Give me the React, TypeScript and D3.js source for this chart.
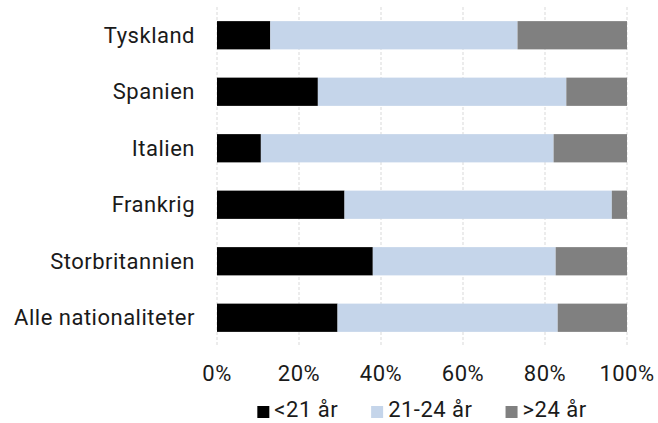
import React, { useEffect, useRef } from 'react';
import * as d3 from 'd3';

const categories = ['Tyskland', 'Spanien', 'Italien', 'Frankrig', 'Storbritannien', 'Alle nationaliteter'];
const seriesNames = ['<21 år', '21-24 år', '>24 år'];
const under21 = [13.0, 24.6, 10.7, 31.1, 38.0, 29.4];
const from21to24 = [60.3, 60.6, 71.4, 65.2, 44.6, 53.7];
const over24 = [26.7, 14.8, 17.9, 3.7, 17.4, 16.9];
const xTicks = [0, 20, 40, 60, 80, 100];
const colors = ['#000000', '#c5d5ea', '#808080'];

const W = 658;
const H = 423;
const FONT = 'Roboto, "DejaVu Sans", sans-serif';

const App: React.FC = () => {
  const svgRef = useRef<SVGSVGElement>(null);

  useEffect(() => {
    if (!svgRef.current) return;
    const margin = { top: 7, right: 31, bottom: 77, left: 217 };
    const innerW = W - margin.left - margin.right;
    const innerH = H - margin.top - margin.bottom;

    const svg = d3.select(svgRef.current);
    svg.selectAll('*').remove();

    const g = svg.append('g').attr('transform', `translate(${margin.left},${margin.top})`);

    const x = d3.scaleLinear().domain([0, 100]).range([0, innerW]);
    const y = d3
      .scaleBand<string>()
      .domain(categories)
      .range([0, innerH])
      .paddingInner(0.5)
      .paddingOuter(0.25);

    // dashed vertical gridlines
    g.append('g')
      .selectAll('line')
      .data(xTicks)
      .join('line')
      .attr('x1', (d) => x(d))
      .attr('x2', (d) => x(d))
      .attr('y1', 0)
      .attr('y2', innerH)
      .attr('stroke', '#d9d9d9')
      .attr('stroke-width', 1)
      .attr('stroke-dasharray', '3,2');

    const rows = categories.map((c, i) => ({ cat: c, v: [under21[i], from21to24[i], over24[i]] }));
    const stacked = d3.stack<{ cat: string; v: number[] }, number>()
      .keys([0, 1, 2])
      .value((d, k) => d.v[k])(rows);

    g.append('g')
      .selectAll('g')
      .data(stacked)
      .join('g')
      .attr('fill', (_, i) => colors[i])
      .selectAll('rect')
      .data((s) => s)
      .join('rect')
      .attr('x', (d) => x(d[0]))
      .attr('width', (d) => x(d[1]) - x(d[0]))
      .attr('y', (d) => y(d.data.cat)!)
      .attr('height', y.bandwidth());

    // category labels
    g.append('g')
      .selectAll('text')
      .data(categories)
      .join('text')
      .attr('x', -22)
      .attr('y', (d) => y(d)! + y.bandwidth() / 2)
      .attr('dy', '0.35em')
      .attr('text-anchor', 'end')
      .attr('font-family', FONT)
      .attr('font-size', 22)
      .attr('letter-spacing', 0.5)
      .attr('fill', '#1a1a1a')
      .text((d) => d);

    // x tick labels
    g.append('g')
      .selectAll('text')
      .data(xTicks)
      .join('text')
      .attr('x', (d) => x(d))
      .attr('y', innerH + 35)
      .attr('text-anchor', 'middle')
      .attr('font-family', FONT)
      .attr('font-size', 22)
      .attr('letter-spacing', 0.5)
      .attr('fill', '#1a1a1a')
      .text((d) => `${d}%`);

    // legend, centred under the plot
    const legend = svg.append('g');
    const items = legend
      .selectAll('g')
      .data(seriesNames)
      .join('g');
    items
      .append('rect')
      .attr('width', 12)
      .attr('height', 12)
      .attr('y', -11)
      .attr('fill', (_, i) => colors[i]);
    items
      .append('text')
      .attr('x', 17)
      .attr('font-family', FONT)
      .attr('font-size', 22)
      .attr('letter-spacing', 0.5)
      .attr('fill', '#1a1a1a')
      .text((d) => d);
    let cx = 0;
    const gap = 33;
    items.each(function () {
      const t = d3.select(this).select('text').node() as SVGTextElement;
      const w = 17 + t.getComputedTextLength();
      d3.select(this).attr('transform', `translate(${cx},0)`);
      cx += w + gap;
    });
    const total = cx - gap;
    legend.attr('transform', `translate(${margin.left + innerW / 2 - total / 2},${H - 6})`);
  }, []);

  return (
    <svg
      ref={svgRef}
      width={W}
      height={H}
      style={{ display: 'block', position: 'absolute', left: 0, top: 0, background: '#fff' }}
    />
  );
};

export default App;
